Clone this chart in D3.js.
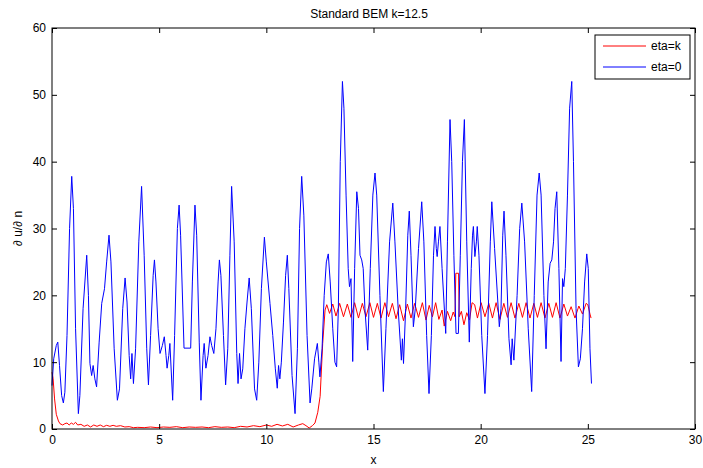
<!DOCTYPE html>
<html>
<head>
<meta charset="utf-8">
<script src="https://cdn.jsdelivr.net/npm/d3@7"></script>
<style>
  body { margin: 0; background: #fff; }
  svg { display: block; font-family: "Liberation Sans", Arial, sans-serif; }
  text { fill: #000; }
</style>
</head>
<body>
<div id="container"></div>
<script>
const xTicks = [0, 5, 10, 15, 20, 25, 30];
const yTicks = [0, 10, 20, 30, 40, 50, 60];

// eta=0 (blue)
const blueX = [0.00, 0.08, 0.2, 0.27, 0.35, 0.45, 0.53, 0.6, 0.7, 0.82, 0.92, 1.0, 1.1, 1.23, 1.3, 1.45, 1.62, 1.7, 1.77, 1.85,
  1.92, 2.0, 2.08, 2.2, 2.32, 2.45, 2.55, 2.66, 2.75, 2.9, 3.05, 3.15, 3.3, 3.41, 3.5, 3.6, 3.67, 3.73, 3.8, 3.9,
  4.05, 4.18, 4.3, 4.42, 4.5, 4.6, 4.72, 4.78, 4.85, 4.95, 5.04, 5.15, 5.24, 5.32, 5.37, 5.45, 5.5, 5.63, 5.72, 5.85,
  5.93, 6.0, 6.16, 6.47, 6.55, 6.67, 6.75, 6.87, 6.95, 7.05, 7.1, 7.18, 7.28, 7.37, 7.45, 7.55, 7.65, 7.75, 7.81, 7.88,
  8.0, 8.1, 8.2, 8.3, 8.38, 8.5, 8.62, 8.68, 8.75, 8.82, 8.9, 9.0, 9.1, 9.2, 9.3, 9.45, 9.55, 9.65, 9.77, 9.91,
  10.0, 10.17, 10.3, 10.42, 10.51, 10.57, 10.63, 10.7, 10.8, 10.9, 10.98, 11.05, 11.2, 11.34, 11.45, 11.55, 11.65, 11.75, 11.9, 12.04,
  12.12, 12.25, 12.38, 12.45, 12.5, 12.6, 12.7, 12.8, 12.89, 12.98, 13.1, 13.2, 13.28, 13.36, 13.45, 13.55, 13.62, 13.72, 13.82, 13.88,
  13.95, 14.03, 14.12, 14.22, 14.3, 14.37, 14.45, 14.52, 14.6, 14.73, 14.85, 14.97, 15.07, 15.15, 15.3, 15.46, 15.58, 15.75, 15.9, 16.0,
  16.15, 16.3, 16.35, 16.4, 16.5, 16.6, 16.67, 16.75, 16.86, 16.95, 17.1, 17.25, 17.35, 17.48, 17.59, 17.7, 17.8, 17.87, 17.93, 17.97,
  18.03, 18.1, 18.2, 18.37, 18.45, 18.57, 18.65, 18.75, 18.85, 18.96, 19.05, 19.15, 19.24, 19.35, 19.47, 19.56, 19.62, 19.66, 19.73, 19.8,
  19.84, 19.92, 20.05, 20.2, 20.32, 20.45, 20.52, 20.65, 20.87, 20.95, 21.03, 21.09, 21.18, 21.32, 21.42, 21.47, 21.55, 21.7, 21.82, 21.92,
  22.05, 22.22, 22.38, 22.5, 22.63, 22.73, 22.82, 22.95, 23.05, 23.15, 23.24, 23.32, 23.4, 23.47, 23.55, 23.65, 23.75, 23.82, 23.88, 23.95,
  24.05, 24.15, 24.25, 24.33, 24.45, 24.56, 24.65, 24.75, 24.85, 24.95, 25.02, 25.1, 25.17];
const blueY = [6.5, 10.5, 12.5, 13.0, 9.5, 5.0, 3.9, 5.5, 14, 30, 37.8, 33, 15, 2.3, 5, 18, 26.0, 20, 9.8, 8.0,
  9.5, 7.5, 6.3, 13, 18.8, 21, 25, 29.0, 25, 12, 4.3, 6, 18, 22.6, 19, 11, 7.5, 11.3, 6.8, 12,
  28, 36.3, 26, 12, 6.6, 14, 23, 25.3, 22, 15, 11.3, 12.5, 13.8, 11, 9.1, 11, 12.8, 4.3, 14, 30,
  33.5, 29, 12.1, 12.1, 22, 33.5, 29, 13, 4.3, 11, 12.8, 9.1, 11, 13.8, 12.5, 11.3, 15, 22, 25.3, 23,
  14, 6.6, 12, 26, 36.3, 28, 11.3, 6.8, 11.3, 7.5, 9, 15, 19, 22.6, 18, 6, 4.3, 10, 21, 28.7,
  25, 18.8, 14, 9, 6.1, 9.5, 7.5, 10, 16, 23, 26.0, 21, 8, 2.3, 12, 30, 37.8, 32, 14, 3.9,
  6, 10.5, 12.8, 10, 7.8, 12, 20, 25, 26.2, 22, 15, 10, 9.3, 18, 40, 52.0, 48, 35, 24, 21.3,
  22.5, 10.1, 24, 35.5, 33, 26, 25.3, 24, 18, 11.8, 24, 35, 38.3, 35, 20, 5.6, 15, 28, 33.8, 28,
  18, 10.3, 13.5, 9.8, 18, 29, 32.6, 26, 15.3, 18, 27, 34.0, 28, 14, 5.3, 14, 26, 30.3, 27, 25.8,
  28, 30.3, 24, 14.3, 28, 46.3, 40, 26, 14.3, 14.3, 26, 40, 46.3, 28, 13.0, 24, 29, 30.3, 25.8, 28,
  30.3, 26, 14, 5.3, 14, 28, 34.0, 27, 15.3, 18, 29, 32.6, 26, 13.5, 9.6, 13.5, 10.3, 20, 30, 33.8,
  28, 15, 5.6, 20, 35, 38.3, 35, 20, 12.0, 22, 24.8, 25.3, 28, 33, 35.5, 24, 10.1, 22.5, 21.3, 24,
  35, 48, 52.0, 40, 18, 9.3, 10.5, 15, 22, 26.2, 24, 12, 6.8];

// eta=k (red)
const redX = [0, 0.05, 0.12, 0.2, 0.3, 0.37, 0.5, 0.6, 0.7, 0.8, 0.9, 1.0, 1.1, 1.2, 1.35, 1.5, 1.65, 1.8, 1.95, 2.1,
  2.25, 2.4, 2.55, 2.7, 2.85, 3.0, 3.2, 3.4, 3.6, 3.8, 4.0, 4.3, 4.6, 4.9, 5.2, 5.5, 5.8, 6.1, 6.4, 6.7,
  7.0, 7.3, 7.6, 7.9, 8.2, 8.5, 8.8, 9.1, 9.4, 9.7, 10.0, 10.25, 10.5, 10.75, 11.0, 11.25, 11.5, 11.7, 11.85, 12.0,
  12.15, 12.27, 12.4, 12.51, 12.63, 12.74, 12.82, 12.95, 13.1, 13.25, 13.42, 13.6, 13.78, 13.95, 14.12, 14.3, 14.48, 14.65, 14.83, 15.0,
  15.18, 15.35, 15.53, 15.7, 15.88, 16.05, 16.22, 16.4, 16.58, 16.75, 16.92, 17.1, 17.28, 17.45, 17.6, 17.75, 17.9, 18.05, 18.2, 18.3,
  18.45, 18.6, 18.72, 18.8, 18.84, 18.97, 19.0, 19.1, 19.22, 19.35, 19.48, 19.6, 19.72, 19.85, 20.02, 20.2, 20.38, 20.55, 20.72, 20.9,
  21.08, 21.25, 21.42, 21.6, 21.78, 21.95, 22.12, 22.3, 22.48, 22.65, 22.82, 23.0, 23.18, 23.35, 23.52, 23.7, 23.88, 24.05, 24.22, 24.4,
  24.58, 24.75, 24.92, 25.0, 25.1, 25.15];
const redY = [8.5, 7.6, 4.5, 2.2, 1.2, 0.8, 0.6, 0.8, 0.9, 0.6, 0.9, 0.7, 1.0, 0.6, 0.7, 0.4, 0.6, 0.3, 0.6, 0.4,
  0.6, 0.35, 0.55, 0.4, 0.55, 0.4, 0.5, 0.3, 0.35, 0.2, 0.25, 0.2, 0.3, 0.2, 0.3, 0.25, 0.35, 0.2, 0.3, 0.25,
  0.3, 0.2, 0.35, 0.25, 0.3, 0.2, 0.4, 0.3, 0.5, 0.35, 0.6, 0.4, 0.7, 0.45, 0.7, 0.3, 0.6, 0.8, 0.5, 0.15,
  0.5, 0.9, 2.5, 4.9, 12.8, 17.8, 18.6, 17.3, 18.7, 16.9, 18.8, 16.8, 18.7, 16.7, 18.9, 16.6, 18.8, 16.8, 18.9, 16.7,
  18.8, 16.6, 18.9, 16.8, 18.8, 16.5, 18.6, 16.2, 18.7, 16.6, 18.8, 16.7, 18.9, 16.3, 18.5, 16.8, 18.9, 16.4, 17.8, 15.4,
  17.6, 16.2, 17.5, 16.8, 23.3, 23.3, 16.8, 17.6, 15.6, 17.4, 16.3, 18.9, 18.6, 16.6, 18.9, 16.8, 18.8, 16.6, 18.9, 16.4,
  18.8, 16.7, 18.9, 16.6, 18.8, 16.7, 18.9, 16.6, 18.8, 16.7, 18.9, 16.6, 18.8, 16.7, 18.9, 16.6, 18.7, 16.9, 18.3, 16.6,
  18.4, 17.2, 18.8, 18.6, 17.2, 16.6];

const legendNames = ["eta=k", "eta=0"];
const colors = ["#ff0000", "#0000ff"];

const W = 703, H = 468;
const margin = {top: 28, right: 8, bottom: 39, left: 52};
const fontSize = 12;

const svg = d3.select("#container")
  .append("svg")
  .attr("width", W)
  .attr("height", H);

const x = d3.scaleLinear().domain([0, 30]).range([margin.left, W - margin.right]);
const y = d3.scaleLinear().domain([0, 60]).range([H - margin.bottom, margin.top]);

const x0 = x(0), x1 = x(30), y0 = y(0), y1 = y(60);

svg.append("rect")
  .attr("x", x0).attr("y", y1)
  .attr("width", x1 - x0).attr("height", y0 - y1)
  .attr("fill", "#fff");

// lines
const series = [
  {xs: redX, ys: redY, color: colors[0]},
  {xs: blueX, ys: blueY, color: colors[1]}
];
const line = d3.line()
  .x(d => x(d[0]))
  .y(d => y(d[1]));

series.forEach(s => {
  svg.append("path")
    .datum(s.xs.map((v, i) => [v, s.ys[i]]))
    .attr("fill", "none")
    .attr("stroke", s.color)
    .attr("stroke-width", 1)
    .attr("d", line);
});

// axes, ticks pointing inward like matlab
const axBottom = svg.append("g")
  .attr("transform", `translate(0,${y0})`)
  .call(d3.axisBottom(x).tickValues(xTicks).tickSize(-5).tickSizeOuter(0).tickPadding(6));
const axLeft = svg.append("g")
  .attr("transform", `translate(${x0},0)`)
  .call(d3.axisLeft(y).tickValues(yTicks).tickSize(-5).tickSizeOuter(0).tickPadding(6));
const axTop = svg.append("g")
  .attr("transform", `translate(0,${y1})`)
  .call(d3.axisTop(x).tickValues(xTicks).tickSize(-5).tickSizeOuter(0).tickFormat(""));
const axRight = svg.append("g")
  .attr("transform", `translate(${x1},0)`)
  .call(d3.axisRight(y).tickValues(yTicks).tickSize(-5).tickSizeOuter(0).tickFormat(""));

[axBottom, axLeft, axTop, axRight].forEach(g => {
  g.select(".domain").remove();
  g.selectAll("line").attr("stroke", "#000");
  g.selectAll("text")
    .attr("font-size", fontSize)
    .attr("font-family", "Liberation Sans, Arial, sans-serif")
    .attr("fill", "#000");
});

svg.append("rect")
  .attr("x", x0).attr("y", y1)
  .attr("width", x1 - x0).attr("height", y0 - y1)
  .attr("fill", "none")
  .attr("stroke", "#000")
  .attr("stroke-width", 1);

// labels
svg.append("text")
  .attr("x", 369)
  .attr("y", 18)
  .attr("text-anchor", "middle")
  .attr("font-size", fontSize)
  .text("Standard BEM k=12.5");

svg.append("text")
  .attr("x", (x0 + x1) / 2)
  .attr("y", 464)
  .attr("text-anchor", "middle")
  .attr("font-size", fontSize)
  .text("x");

svg.append("text")
  .attr("transform", `translate(22,${(y0 + y1) / 2}) rotate(-90)`)
  .attr("text-anchor", "middle")
  .attr("font-size", fontSize)
  .text("\u2202 u/\u2202 n");

// legend
const legend = svg.append("g").attr("transform", "translate(595,35)");
legend.append("rect")
  .attr("width", 95).attr("height", 44)
  .attr("fill", "#fff")
  .attr("stroke", "#000");
legendNames.forEach((name, i) => {
  const ly = 11 + i * 21;
  legend.append("line")
    .attr("x1", 8).attr("x2", 51)
    .attr("y1", ly).attr("y2", ly)
    .attr("stroke", colors[i]);
  legend.append("text")
    .attr("x", 56)
    .attr("y", ly + 4)
    .attr("font-size", fontSize)
    .text(name);
});
</script>
</body>
</html>
